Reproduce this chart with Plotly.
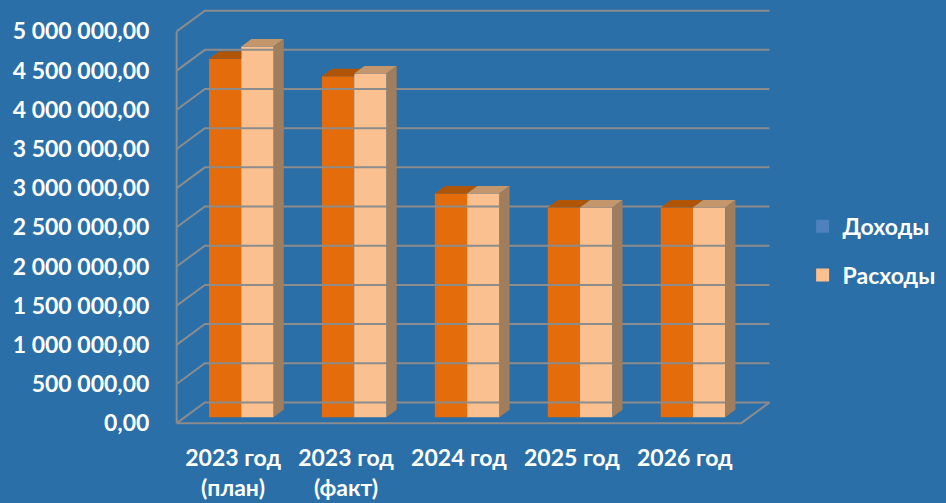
import plotly.graph_objects as go

# ---------------- data ----------------
categories = ["2023 год<br>(план)", "2023 год<br>(факт)", "2024 год", "2025 год", "2026 год"]
income = [4575000, 4350000, 2855000, 2675000, 2675000]      # Доходы
expenses = [4730000, 4385000, 2855000, 2675000, 2675000]    # Расходы
series_names = ["Доходы", "Расходы"]
y_tick_values = [0, 500000, 1000000, 1500000, 2000000, 2500000,
                 3000000, 3500000, 4000000, 4500000, 5000000]

# ---------------- style / geometry ----------------
BG = "#2A6FA8"
GRID = "#8C8C8C"
FONT = dict(family="Lato, 'Open Sans', sans-serif", size=23, color="white", weight="bold")
front_col = ["#E46C0A", "#FBC08F"]
top_col = ["#B05408", "#C4966C"]
side_col = ["#8A4A10", "#A07D5C"]
legend_col = ["#4F81BD", "#FBC08F"]

DX = 0.25          # full depth offset in category units
DY = 265000        # full depth offset in value units
D0, D1 = 0.29, 0.65  # bar depth slab (fraction of depth)
BW = 0.286         # width of one bar (category units)
PAD = 0.214        # gap before first bar in category
n = len(categories)


def ticktext(v):
    return f"{v:,.2f}".replace(",", " ").replace(".", ",")


fig = go.Figure()

# ---------- walls / gridlines ----------
gx, gy = [], []
for v in y_tick_values:
    gx += [0, DX, n + DX, None]
    gy += [v, v + DY, v + DY, None]
gx += [0, 0, None, 0, n, n + DX, None]
gy += [0, y_tick_values[-1], None, 0, 0, DY, None]
fig.add_trace(go.Scatter(x=gx, y=gy, mode="lines", line=dict(color=GRID, width=2),
                         showlegend=False, hoverinfo="skip"))

# ---------- bars (front faces as bars, top/side faces as polygons) ----------
a = (D1 - D0) * DX
b = (D1 - D0) * DY
base = D0 * DY
series = [income, expenses]
for s, vals in enumerate(series):
    x0s = [i + PAD + s * BW + D0 * DX for i in range(n)]
    fig.add_trace(go.Bar(x=[x + BW / 2 for x in x0s], y=vals, base=[base] * n, width=BW,
                         marker=dict(color=front_col[s], line=dict(width=0)),
                         showlegend=False, hoverinfo="skip"))
    tx, ty, sx, sy = [], [], [], []
    for i, (x0, v) in enumerate(zip(x0s, vals)):
        t = base + v
        x1 = x0 + BW
        if s == 0:
            # part of the top hidden behind the front face of the neighbouring bar
            lt = base + series[1][i]
            if lt <= t:
                tx += [x0, x1, x1 + a, x0 + a, x0, None]
                ty += [t, t, t + b, t + b, t, None]
            elif lt < t + b:
                xc = x1 + (lt - t) * a / b
                tx += [x0, x1, x1, xc, x1 + a, x0 + a, x0, None]
                ty += [t, t, lt, lt, t + b, t + b, t, None]
            else:
                tx += [x0, x1, x1, x0 + a, x0, None]
                ty += [t, t, t + b, t + b, t, None]
        else:
            tx += [x0, x1, x1 + a, x0 + a, x0, None]
            ty += [t, t, t + b, t + b, t, None]
            sx += [x1, x1 + a, x1 + a, x1, x1, None]
            sy += [base, base + b, t + b, t, base, None]
    fig.add_trace(go.Scatter(x=tx, y=ty, mode="none", fill="toself", fillcolor=top_col[s],
                             showlegend=False, hoverinfo="skip"))
    if sx:
        fig.add_trace(go.Scatter(x=sx, y=sy, mode="none", fill="toself", fillcolor=side_col[s],
                                 showlegend=False, hoverinfo="skip"))

# ---------- legend entries ----------
for s, name in enumerate(series_names):
    fig.add_trace(go.Scatter(x=[None], y=[None], name=name, legendgroup=name, mode="markers",
                             marker=dict(color=legend_col[s], symbol="square", size=13,
                                         line=dict(width=0))))

# ---------- layout ----------
CAT_PX = 112.9
PX_PER_VAL = 78.46 / 1e6
x_lo, x_hi = -0.05, 5.6
y_lo, y_hi = -100000, 5350000
left = 176.7 + x_lo * CAT_PX
plot_w = (x_hi - x_lo) * CAT_PX
right = 946 - left - plot_w
bottom_px = 423.3 - y_lo * PX_PER_VAL
top_px = 423.3 - y_hi * PX_PER_VAL

fig.update_layout(
    width=946, height=503,
    paper_bgcolor=BG, plot_bgcolor=BG,
    margin=dict(l=left, r=right, t=top_px, b=503 - bottom_px, pad=0),
    barmode="overlay",
    font=FONT,
    showlegend=True,
    legend=dict(x=0.99, xanchor="left", y=0.53, yanchor="top",
                font=FONT, bgcolor="rgba(0,0,0,0)", tracegroupgap=16,
                itemwidth=30),
    xaxis=dict(range=[x_lo, x_hi], tickmode="array",
               tickvals=[i + 0.5 for i in range(n)], ticktext=categories,
               showgrid=False, zeroline=False, showline=False, automargin=False,
               ticks="outside", ticklen=6, tickcolor="rgba(0,0,0,0)",
               tickfont=FONT, fixedrange=True),
    yaxis=dict(range=[y_lo, y_hi], tickmode="array",
               tickvals=y_tick_values, ticktext=[ticktext(v) for v in y_tick_values],
               showgrid=False, zeroline=False, showline=False, automargin=False,
               ticks="outside", ticklen=16, tickcolor="rgba(0,0,0,0)",
               tickfont=FONT, fixedrange=True),
)

fig.write_html("out.html", config={"displayModeBar": False, "staticPlot": True},
               post_script="document.body.style.margin='0';document.body.style.background='" + BG + "';")
